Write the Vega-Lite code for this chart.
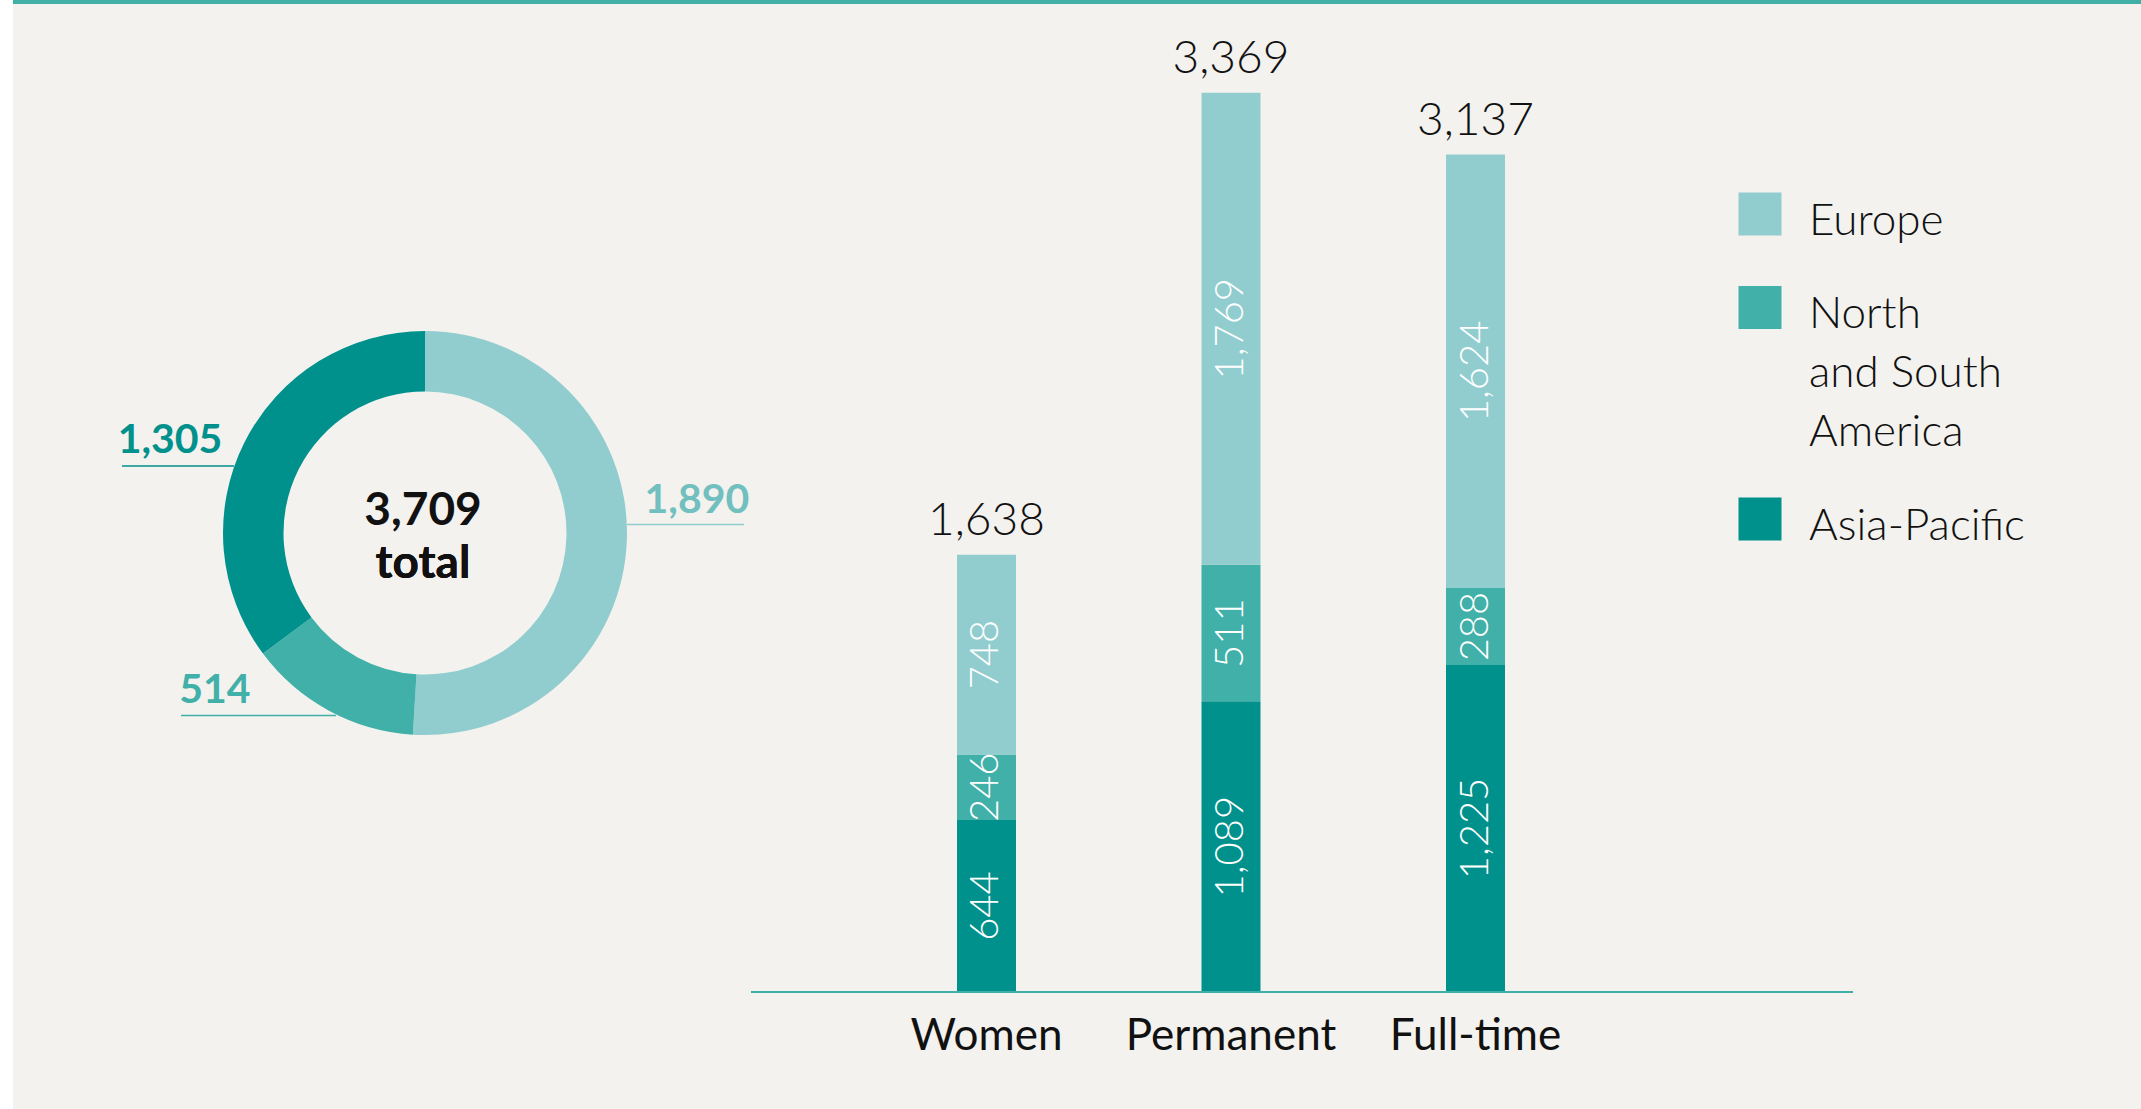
{
  "$schema": "https://vega.github.io/schema/vega-lite/v6.json",
  "background": "#f3f2ee",
  "padding": 0,
  "config": {"view": {"stroke": null}, "font": "Lato"},
  "datasets": {
    "donut": [
      {"region": "Europe", "rank": 1, "value": 1890},
      {"region": "North and South America", "rank": 2, "value": 514},
      {"region": "Asia-Pacific", "rank": 3, "value": 1305}
    ],
    "bars": [
      {"category": "Women", "region": "Asia-Pacific", "rank": 3, "value": 644},
      {"category": "Women", "region": "North and South America", "rank": 2, "value": 246},
      {"category": "Women", "region": "Europe", "rank": 1, "value": 748},
      {"category": "Permanent", "region": "Asia-Pacific", "rank": 3, "value": 1089},
      {"category": "Permanent", "region": "North and South America", "rank": 2, "value": 511},
      {"category": "Permanent", "region": "Europe", "rank": 1, "value": 1769},
      {"category": "Full-time", "region": "Asia-Pacific", "rank": 3, "value": 1225},
      {"category": "Full-time", "region": "North and South America", "rank": 2, "value": 288},
      {"category": "Full-time", "region": "Europe", "rank": 1, "value": 1624}
    ]
  },
  "spacing": 0,
  "vconcat": [
    {
      "spacing": 0,
      "hconcat": [
        {"width": 13, "height": 4, "view": {"fill": "#ffffff", "stroke": null}, "data": {"values": [{}]}, "mark": {"type": "rect", "opacity": 0}, "encoding": {}},
        {"width": 2128, "height": 4, "view": {"fill": "#40b0a6", "stroke": null}, "data": {"values": [{}]}, "mark": {"type": "rect", "opacity": 0}, "encoding": {}}
      ]
    },
    {
      "spacing": 0,
      "resolve": {"scale": {"color": "independent"}, "legend": {"color": "independent"}},
      "hconcat": [
        {"width": 13, "height": 1105, "view": {"fill": "#ffffff", "stroke": null}, "data": {"values": [{}]}, "mark": {"type": "rect", "opacity": 0}, "encoding": {}},
        {"width": 88, "height": 10, "data": {"values": [{}]}, "mark": {"type": "rect", "opacity": 0}, "encoding": {}},
        {
          "width": 648,
          "height": 1058,
          "data": {"name": "donut"},
          "layer": [
            {
              "mark": {"type": "arc", "outerRadius": 202, "innerRadius": 141.5},
              "encoding": {
                "theta": {"field": "value", "type": "quantitative", "stack": true},
                "order": {"field": "rank", "type": "quantitative"},
                "color": {
                  "field": "region", "type": "nominal",
                  "scale": {"domain": ["Europe", "North and South America", "Asia-Pacific"], "range": ["#91cdcf", "#40b0a9", "#01918d"]},
                  "legend": null
                }
              }
            },
            {
              "transform": [{"filter": "datum.region === 'Asia-Pacific'"}],
              "mark": {"type": "rule", "color": "#01918d", "strokeWidth": 1.5},
              "encoding": {"x": {"value": 21}, "x2": {"value": 133}, "y": {"value": 462}}
            },
            {
              "transform": [{"filter": "datum.region === 'Europe'"}],
              "mark": {"type": "rule", "color": "#91cdcf", "strokeWidth": 1.5},
              "encoding": {"x": {"value": 526}, "x2": {"value": 643}, "y": {"value": 520.5}}
            },
            {
              "transform": [{"filter": "datum.region === 'North and South America'"}],
              "mark": {"type": "rule", "color": "#40b0a9", "strokeWidth": 1.5},
              "encoding": {"x": {"value": 80}, "x2": {"value": 235}, "y": {"value": 711.5}}
            },
            {
              "mark": {"type": "text", "radius": 272, "dx": 0, "dy": -28.5, "font": "Lato", "fontWeight": 700, "fontSize": 41, "color": "#72bfbf", "align": "center", "baseline": "alphabetic"},
              "encoding": {
                "theta": {"field": "value", "type": "quantitative", "stack": true},
                "order": {"field": "rank", "type": "quantitative"},
                "text": {"condition": {"test": "datum.region === 'Europe'", "field": "value", "type": "quantitative", "format": ","}, "value": ""}
              }
            },
            {
              "mark": {"type": "text", "radius": 272, "dx": -80.7, "dy": -69.3, "font": "Lato", "fontWeight": 700, "fontSize": 41, "color": "#40b0a9", "align": "center", "baseline": "alphabetic"},
              "encoding": {
                "theta": {"field": "value", "type": "quantitative", "stack": true},
                "order": {"field": "rank", "type": "quantitative"},
                "text": {"condition": {"test": "datum.region === 'North and South America'", "field": "value", "type": "quantitative", "format": ","}, "value": ""}
              }
            },
            {
              "mark": {"type": "text", "radius": 272, "dx": -11.9, "dy": 42.1, "font": "Lato", "fontWeight": 700, "fontSize": 41, "color": "#01918d", "align": "center", "baseline": "alphabetic"},
              "encoding": {
                "theta": {"field": "value", "type": "quantitative", "stack": true},
                "order": {"field": "rank", "type": "quantitative"},
                "text": {"condition": {"test": "datum.region === 'Asia-Pacific'", "field": "value", "type": "quantitative", "format": ","}, "value": ""}
              }
            },
            {
              "mark": {"type": "text", "font": "Lato", "fontWeight": 700, "fontSize": 46, "color": "#111111", "align": "center", "baseline": "alphabetic", "dx": -2, "dy": -8},
              "encoding": {"text": {"aggregate": "sum", "field": "value", "type": "quantitative", "format": ","}}
            },
            {
              "mark": {"type": "text", "font": "Lato", "fontWeight": 700, "fontSize": 46, "color": "#111111", "align": "center", "baseline": "alphabetic", "dx": -2, "dy": 45},
              "encoding": {"text": {"value": "total"}}
            }
          ]
        },
        {
          "width": 1102,
          "height": 988,
          "data": {"name": "bars"},
          "layer": [
            {
              "mark": {"type": "bar"},
              "encoding": {
                "x": {
                  "field": "category", "type": "nominal",
                  "sort": ["Women", "Permanent", "Full-time"],
                  "scale": {"paddingInner": 0.7587, "paddingOuter": 0, "range": [206, 754]},
                  "axis": {
                    "title": null, "domain": false, "ticks": false, "tickSize": 0, "grid": false,
                    "labelFont": "Lato", "labelFontSize": 44, "labelFontWeight": 400, "labelColor": "#111111",
                    "labelPadding": 22, "labelAngle": 0, "labelLimit": 400, "labelOverlap": false
                  }
                },
                "y": {"field": "value", "type": "quantitative", "stack": "zero", "scale": {"domain": [0, 3701], "nice": false}, "axis": null},
                "order": {"field": "rank", "type": "quantitative", "sort": "descending"},
                "color": {
                  "field": "region", "type": "nominal",
                  "scale": {"domain": ["Europe", "North and South America", "Asia-Pacific"], "range": ["#91cdcf", "#40b0a9", "#01918d"]},
                  "legend": {
                    "title": null, "orient": "none", "legendX": 987, "legendY": 188, "padding": 0,
                    "symbolType": "square", "symbolSize": 1849, "symbolStrokeWidth": 0, "symbolOpacity": 1,
                    "labelFont": "Lato", "labelFontSize": 44, "labelFontWeight": 300, "labelColor": "#111111",
                    "labelOffset": 27, "labelLimit": 600, "rowPadding": 41.5, "labelBaseline": "top",
                    "labelExpr": "datum.label === 'North and South America' ? ['North', 'and South', 'America'] : datum.label",
                    "encode": {"labels": {"update": {"dy": {"value": -14.5}, "lineHeight": {"value": 59}}}}
                  }
                }
              }
            },
            {
              "mark": {"type": "text", "angle": 270, "color": "#ffffff", "font": "Lato", "fontSize": 40, "fontWeight": 300, "align": "center", "baseline": "middle"},
              "encoding": {
                "x": {"field": "category", "type": "nominal", "sort": ["Women", "Permanent", "Full-time"]},
                "y": {"field": "value", "type": "quantitative", "stack": "zero", "bandPosition": 0.5},
                "detail": {"field": "region", "type": "nominal"},
                "order": {"field": "rank", "type": "quantitative", "sort": "descending"},
                "text": {"field": "value", "type": "quantitative", "format": ","}
              }
            },
            {
              "mark": {"type": "text", "color": "#111111", "font": "Lato", "fontSize": 46, "fontWeight": 300, "align": "center", "baseline": "alphabetic", "dy": -20},
              "encoding": {
                "x": {"field": "category", "type": "nominal", "sort": ["Women", "Permanent", "Full-time"]},
                "y": {"aggregate": "sum", "field": "value", "type": "quantitative"},
                "text": {"aggregate": "sum", "field": "value", "type": "quantitative", "format": ","}
              }
            },
            {
              "mark": {"type": "rule", "color": "#40b0a6", "strokeWidth": 1.5},
              "encoding": {"y": {"datum": 0, "type": "quantitative"}}
            }
          ]
        }
      ]
    }
  ]
}
